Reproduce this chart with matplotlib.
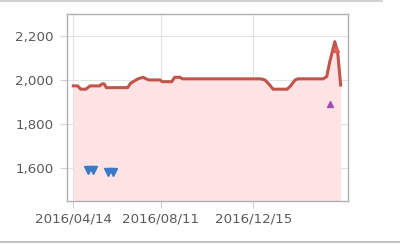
import numpy as np
import pandas as pd
import matplotlib
matplotlib.use("Agg")
import matplotlib.pyplot as plt
from matplotlib.lines import Line2D

# price line
dates = ["2016-04-14", "2016-04-20", "2016-04-24", "2016-05-01", "2016-05-07",
         "2016-05-20", "2016-05-23", "2016-05-26", "2016-05-29", "2016-06-27",
         "2016-07-01", "2016-07-06", "2016-07-11", "2016-07-18", "2016-07-22",
         "2016-07-26", "2016-08-10", "2016-08-13", "2016-08-26", "2016-08-30",
         "2016-09-06", "2016-09-10", "2016-12-25", "2016-12-31", "2017-01-07",
         "2017-01-11", "2017-01-30", "2017-02-03", "2017-02-10", "2017-02-14",
         "2017-03-20", "2017-03-25", "2017-03-29", "2017-04-05", "2017-04-09",
         "2017-04-13"]
prices = [1973, 1973, 1958, 1958, 1973,
          1973, 1982, 1982, 1965, 1965,
          1985, 1995, 2005, 2012, 2005,
          2000, 2000, 1992, 1992, 2012,
          2012, 2005, 2005, 2000, 1975,
          1958, 1958, 1970, 2000, 2005,
          2005, 2015, 2080, 2174, 2123,
          1977]

# markers
low_dates = ["2016-05-04", "2016-05-11", "2016-05-31", "2016-06-07"]
low_vals = [1590, 1590, 1582, 1582]
peak_date = ["2017-04-06"]
peak_val = [2140]
other_date = ["2017-03-30"]
other_val = [1890]

tick_dates = ["2016-04-14", "2016-08-11", "2016-12-15"]
tick_labels = ["2016/04/14", "2016/08/11", "2016/12/15"]
y_ticks = [1600, 1800, 2000, 2200]

x = pd.to_datetime(dates)
fig = plt.figure(figsize=(4, 2.45), dpi=100)
ax = fig.add_axes([0.1675, 0.18, 0.7025, 0.763])

ax.fill_between(x, prices, 1450, color="#fde3e3", lw=0, zorder=1)
ax.plot(x, prices, color="#c0564b", lw=2.2, zorder=3, solid_joinstyle="round")
ax.plot(pd.to_datetime(low_dates), low_vals, "v", color="#3a78c9", ms=5.5,
        mec="#3a78c9", zorder=4)
ax.plot(pd.to_datetime(peak_date), peak_val, "^", color="#e05a5a", ms=4, zorder=4)
ax.plot(pd.to_datetime(other_date), other_val, "^", color="#a050b8", ms=5, zorder=4)

ax.set_ylim(1450, 2300)
ax.set_xlim(pd.Timestamp("2016-04-14") - pd.Timedelta(days=8.6),
            pd.Timestamp("2016-04-14") + pd.Timedelta(days=374))
ax.set_xticks(pd.to_datetime(tick_dates))
ax.set_xticklabels(tick_labels)
ax.set_yticks(y_ticks)
ax.set_yticklabels([f"{v:,}" for v in y_ticks])

ax.grid(True, color="#e2e2e2", lw=0.8, zorder=0)
ax.set_axisbelow(True)
for s in ax.spines.values():
    s.set_color("#b0b0b0")
    s.set_linewidth(1.0)
ax.tick_params(colors="#d0d0d0", labelcolor="#5a5a5a", labelsize=9.6,
               length=5, width=0.8)
ax.tick_params(axis="y", pad=4.5)
ax.tick_params(axis="x", pad=3)

fig.add_artist(Line2D([0, 0.955], [0.995, 0.995], color="#c8c8c8", lw=1.2))
fig.add_artist(Line2D([0, 1], [0.014, 0.014], color="#b8b8b8", lw=1.2))

fig.savefig("out.png", dpi=100)
